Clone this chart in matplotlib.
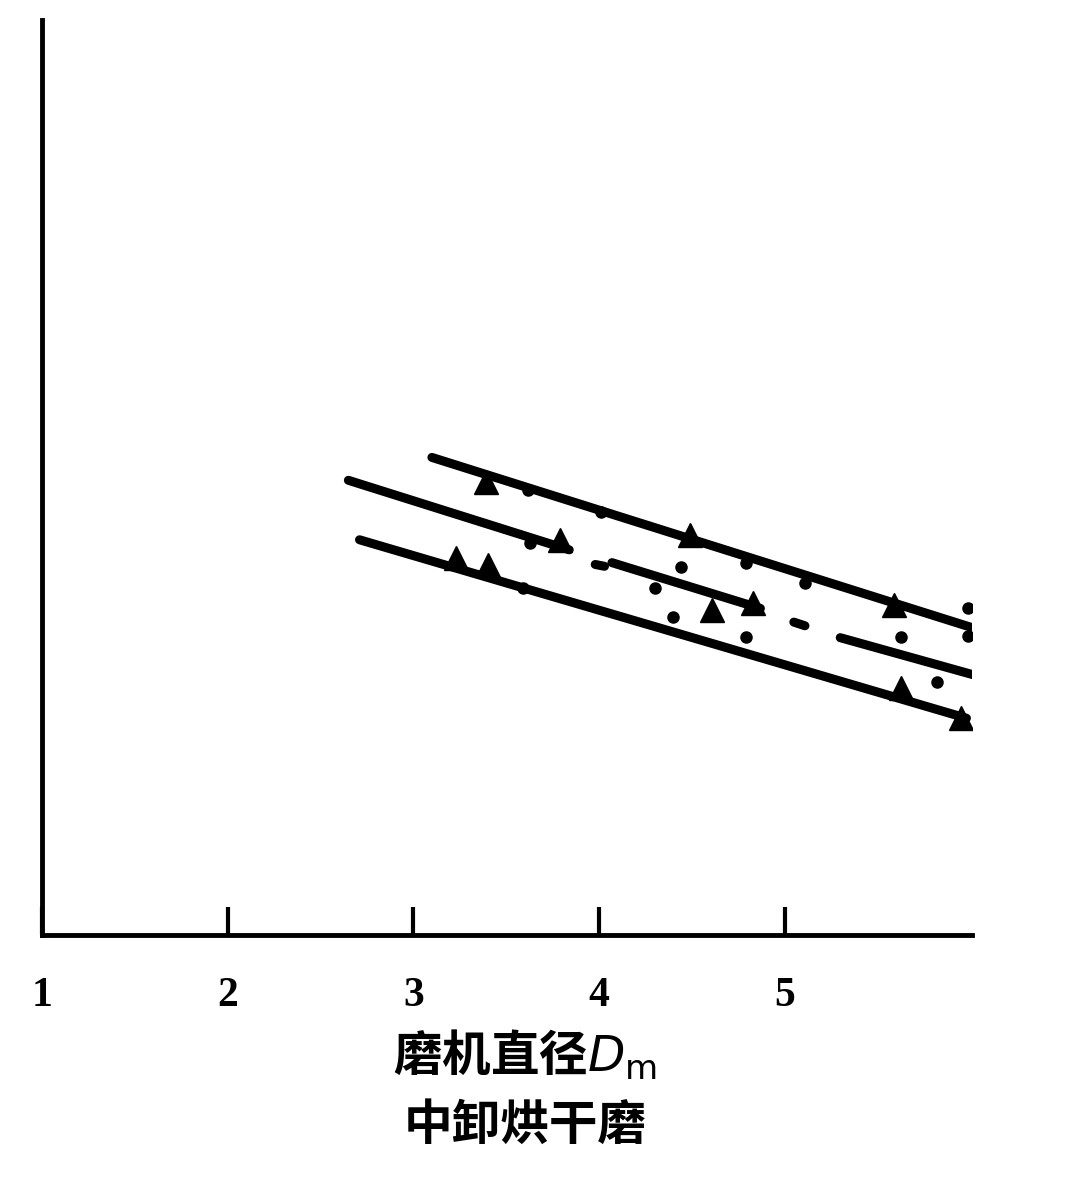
import matplotlib.pyplot as plt

plt.rcParams['font.family'] = ['Noto Sans CJK SC', 'DejaVu Sans']

# 三条趋势线（两端点）
top_x = [3.10, 6.01]
top_y = [5.22, 3.36]
bot_x = [2.71, 5.98]
bot_y = [4.32, 2.37]
# 中线是断开的几段
mid_segs_x = [[2.65, 3.84], [4.07, 4.87], [5.05, 5.11], [5.30, 6.06]]
mid_segs_y = [[4.97, 4.21], [4.07, 3.57], [3.42, 3.38], [3.25, 2.82]]
mid_dash_x = [3.98, 4.03]
mid_dash_y = [4.05, 4.03]

# 三角形数据点
tri_x = [3.39, 4.49, 5.59, 3.79, 4.61, 4.83, 3.23, 3.40, 5.63, 5.95]
tri_y = [4.95, 4.37, 3.61, 4.32, 3.55, 3.63, 4.12, 4.04, 2.70, 2.37]
# 圆点数据点
dot_x = [3.62, 4.01, 4.79, 5.11, 5.99, 5.99, 3.63, 4.44, 4.30, 4.40, 4.79, 5.63, 5.82, 3.59]
dot_y = [4.86, 4.62, 4.07, 3.85, 3.57, 3.27, 4.28, 4.02, 3.79, 3.48, 3.26, 3.26, 2.77, 3.79]

xticks = [1, 2, 3, 4, 5]

fig = plt.figure(figsize=(10.8, 11.86), dpi=100)
ax = fig.add_axes([0.039, 0.2116, 0.861, 0.7715])

lw = 6.5
ax.plot(top_x, top_y, color='black', lw=lw, solid_capstyle='round')
ax.plot(bot_x, bot_y, color='black', lw=lw, solid_capstyle='round')
for sx, sy in zip(mid_segs_x, mid_segs_y):
    ax.plot(sx, sy, color='black', lw=lw, solid_capstyle='round')
ax.plot(mid_dash_x, mid_dash_y, color='black', lw=lw, solid_capstyle='round')

ax.plot(tri_x, tri_y, linestyle='none', marker='^', markersize=17, color='black')
ax.plot(dot_x, dot_y, linestyle='none', marker='o', markersize=8, color='black')

ax.set_xlim(1, 6.01)
ax.set_ylim(0, 10)
ax.spines['top'].set_visible(False)
ax.spines['right'].set_visible(False)
ax.spines['left'].set_linewidth(3.5)
ax.spines['bottom'].set_linewidth(3.5)
ax.set_yticks([])
ax.set_xticks(xticks)
ax.set_xticklabels([str(t) for t in xticks], family='Liberation Serif',
                   fontweight='bold', fontsize=30)
ax.tick_params(axis='x', direction='in', length=20, width=3, pad=30)

# 横轴说明文字（两行）
fig.text(0.486, 0.1105, '磨机直径$D_{\\rm m}$', ha='center', va='center',
         fontsize=35, fontweight='bold')
fig.text(0.486, 0.0514, '中卸烘干磨', ha='center', va='center',
         fontsize=35, fontweight='bold')

fig.savefig('out.png', dpi=100, facecolor='white')
